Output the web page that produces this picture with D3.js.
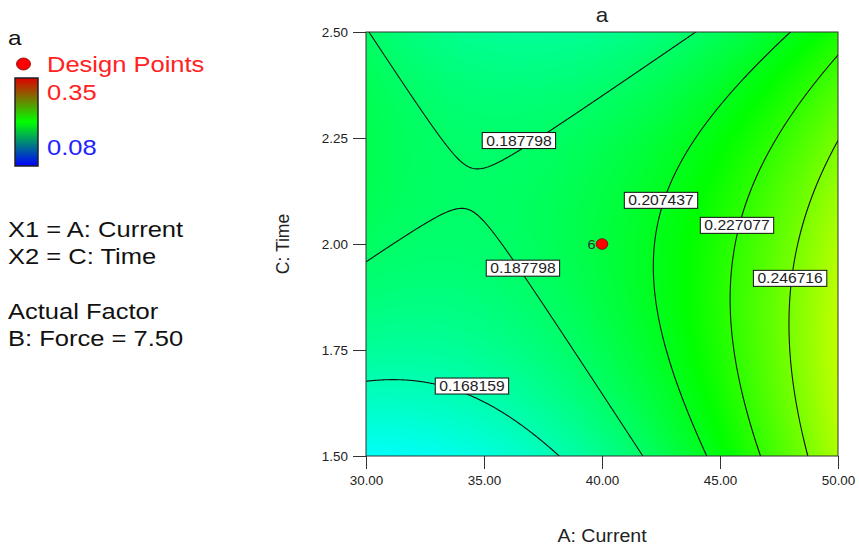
<!DOCTYPE html>
<html><head><meta charset="utf-8">
<script src="https://cdn.jsdelivr.net/npm/d3@7"></script>
<style>
html,body{margin:0;padding:0;background:#fff;}
svg{display:block;font-family:"Liberation Sans",Arial,sans-serif;}
</style>
</head><body>
<svg id="chart" width="859" height="546"></svg>
<script>
// ---------- data ----------
const currentTicks = [30, 35, 40, 45, 50];            // A: Current
const timeTicks = [1.50, 1.75, 2.00, 2.25, 2.50];     // C: Time
// response "a"; rows = Time (1.50 -> 2.50), columns = Current (30 -> 50)
const responseGrid = [
  [0.149120, 0.156385, 0.177350, 0.212015, 0.260380],
  [0.174585, 0.176918, 0.192950, 0.222683, 0.266115],
  [0.189600, 0.187000, 0.198100, 0.222900, 0.261400],
  [0.194165, 0.186633, 0.192800, 0.212668, 0.246235],
  [0.188280, 0.175815, 0.177050, 0.191985, 0.220620]
];
const contourLevels = [0.168159, 0.187798, 0.207437, 0.227077, 0.246716];
const labelLevelIndex = [1, 1, 0, 2, 3, 4];
const labelCurrent = [36.48, 36.65, 34.49, 42.50, 45.72, 47.97];
const labelTime = [2.244, 1.943, 1.665, 2.103, 2.044, 1.919];
const designCurrent = [40];
const designTime = [2.00];
const designCount = ["6"];
const colorRange = [0.08, 0.35];
const legendLines = ["X1 = A: Current", "X2 = C: Time", "", "Actual Factor", "B: Force = 7.50"];

// ---------- setup ----------
const svg = d3.select("#chart");
const SX = 1.12;    // horizontal stretch of the original rendering (plot texts)
const LSX = 1.16;   // horizontal stretch for legend texts
const x = d3.scaleLinear().domain([30, 50]).range([366, 838]);
const y = d3.scaleLinear().domain([1.5, 2.5]).range([456, 32]);
const hue = v => 240 * (1 - (v - colorRange[0]) / (colorRange[1] - colorRange[0]));

function sText(parent, px, py, str, size, anchor, fill, rot, sx) {
  const s = sx || SX;
  const g = parent.append("g")
    .attr("transform", `translate(${px},${py})` + (rot ? ` rotate(${rot})` : ` scale(${s},1)`));
  return g.append("text").text(str).attr("font-size", size)
    .attr("text-anchor", anchor || "start").attr("fill", fill || "#222");
}

function lagrangeWeights(nodes, v) {
  return nodes.map((ni, i) => nodes.reduce((w, nk, k) => k === i ? w : w * (v - nk) / (ni - nk), 1));
}
function evalW(wa, wc) {
  let s = 0;
  for (let j = 0; j < wc.length; j++) {
    const row = responseGrid[j];
    let r = 0;
    for (let i = 0; i < wa.length; i++) r += wa[i] * row[i];
    s += wc[j] * r;
  }
  return s;
}

// ---------- raster fill ----------
const [px0, px1] = x.range();
const py0 = y.range()[1], py1 = y.range()[0];
const W = px1 - px0, H = py1 - py0;
const canvas = document.createElement("canvas");
canvas.width = W; canvas.height = H;
const ctx = canvas.getContext("2d");
const img = ctx.createImageData(W, H);
const wCols = d3.range(W).map(i => lagrangeWeights(currentTicks, x.invert(px0 + i + 0.5)));
const wRows = d3.range(H).map(j => lagrangeWeights(timeTicks, y.invert(py0 + j + 0.5)));
for (let j = 0; j < H; j++) {
  for (let i = 0; i < W; i++) {
    const c = d3.hsl(hue(evalW(wCols[i], wRows[j])), 1, 0.5).rgb();
    const k = (j * W + i) * 4;
    img.data[k] = c.r; img.data[k + 1] = c.g; img.data[k + 2] = c.b; img.data[k + 3] = 255;
  }
}
ctx.putImageData(img, 0, 0);
svg.append("image").attr("x", px0).attr("y", py0).attr("width", W).attr("height", H)
  .attr("preserveAspectRatio", "none").attr("href", canvas.toDataURL());

// ---------- contour lines ----------
const gx0 = px0 - 3, gy0 = py0 - 3, nx = W + 6, ny = H + 6;
const values = new Float64Array(nx * ny);
const cw = d3.range(nx).map(i => lagrangeWeights(currentTicks, x.invert(gx0 + i + 0.5)));
const rw = d3.range(ny).map(j => lagrangeWeights(timeTicks, y.invert(gy0 + j + 0.5)));
for (let j = 0; j < ny; j++) for (let i = 0; i < nx; i++) values[j * nx + i] = evalW(cw[i], rw[j]);
const contours = d3.contours().size([nx, ny]).thresholds(contourLevels)(values);

svg.append("clipPath").attr("id", "plotClip").append("rect")
  .attr("x", px0).attr("y", py0).attr("width", W).attr("height", H);
svg.append("g").attr("clip-path", "url(#plotClip)")
  .append("g").attr("transform", `translate(${gx0},${gy0})`)
  .selectAll("path").data(contours).join("path")
  .attr("d", d3.geoPath())
  .attr("fill", "none").attr("stroke", "#111").attr("stroke-width", 1.1);

// ---------- frame & axes ----------
svg.append("rect").attr("x", px0).attr("y", py0).attr("width", W).attr("height", H)
  .attr("fill", "none").attr("stroke", "#333").attr("stroke-width", 1);

const yAxis = svg.append("g").attr("transform", `translate(${px0},0)`)
  .call(d3.axisLeft(y).tickValues(timeTicks).tickFormat(d3.format(".2f")).tickSize(13).tickSizeOuter(0));
yAxis.select(".domain").remove();
yAxis.selectAll(".tick line").attr("stroke", "#333");
yAxis.selectAll(".tick text").attr("x", null).attr("dy", "0.35em")
  .attr("transform", `translate(-18,0) scale(${SX},1)`)
  .attr("font-size", 12).attr("fill", "#222").attr("font-family", null);

const xAxis = svg.append("g").attr("transform", `translate(0,${py1})`)
  .call(d3.axisBottom(x).tickValues(currentTicks).tickFormat(d3.format(".2f")).tickSize(13).tickSizeOuter(0));
xAxis.select(".domain").remove();
xAxis.selectAll(".tick line").attr("stroke", "#333");
xAxis.selectAll(".tick text").attr("y", null).attr("dy", null)
  .attr("transform", `translate(0,29) scale(${SX},1)`)
  .attr("font-size", 12).attr("fill", "#222").attr("font-family", null);

// axis titles & chart title
sText(svg, (px0 + px1) / 2, 542, "A: Current", 17.5, "middle");
sText(svg, 289, (py0 + py1) / 2, "C: Time", 17.5, "middle", "#222", -90);
sText(svg, (px0 + px1) / 2, 22, "a", 20, "middle");

// ---------- contour labels ----------
const labG = svg.append("g");
labelLevelIndex.forEach((li, k) => {
  const cx = x(labelCurrent[k]), cy = y(labelTime[k]);
  const g = labG.append("g").attr("transform", `translate(${cx},${cy})`);
  const rect = g.append("rect");
  const t = g.append("g").attr("transform", `scale(${SX},1)`).append("text")
    .text(contourLevels[li].toFixed(6)).attr("font-size", 14).attr("text-anchor", "middle")
    .attr("dy", "0.36em").attr("fill", "#222");
  const bw = t.node().getComputedTextLength() * SX + 8;
  rect.attr("x", -bw / 2).attr("y", -8).attr("width", bw).attr("height", 16)
    .attr("fill", "#fff").attr("stroke", "#111").attr("stroke-width", 1);
});

// ---------- design points ----------
designCurrent.forEach((a, k) => {
  const cx = x(a), cy = y(designTime[k]);
  svg.append("ellipse").attr("cx", cx).attr("cy", cy).attr("rx", 5.8).attr("ry", 5.3)
    .attr("fill", "#f00").attr("stroke", "#700").attr("stroke-width", 0.8);
  sText(svg, cx - 6.5, cy + 4.5, designCount[k], 13, "end", "#333");
});

// ---------- legend ----------
sText(svg, 8, 45, "a", 21, "start", "#111", 0, LSX);
svg.append("ellipse").attr("cx", 23.5).attr("cy", 64).attr("rx", 7).attr("ry", 6)
  .attr("fill", "#f00").attr("stroke", "#700").attr("stroke-width", 0.8);
sText(svg, 47, 72, "Design Points", 22, "start", "#f22", 0, LSX);
const grad = svg.append("defs").append("linearGradient").attr("id", "legGrad")
  .attr("x1", 0).attr("y1", 0).attr("x2", 0).attr("y2", 1);
grad.append("stop").attr("offset", "0%").attr("stop-color", "#e00000");
grad.append("stop").attr("offset", "50%").attr("stop-color", "#00ff00");
grad.append("stop").attr("offset", "100%").attr("stop-color", "#0000ff");
svg.append("rect").attr("x", 15).attr("y", 78).attr("width", 23).attr("height", 88)
  .attr("fill", "url(#legGrad)").attr("stroke", "#222").attr("stroke-width", 1.5);
sText(svg, 47, 100, d3.format(".2f")(colorRange[1]), 22, "start", "#f22", 0, LSX);
sText(svg, 47, 155, d3.format(".2f")(colorRange[0]), 22, "start", "#22f", 0, LSX);
legendLines.forEach((s, i) => { if (s) sText(svg, 8, 237 + i * 27.3, s, 22, "start", "#111", 0, LSX); });
</script>
</body></html>
